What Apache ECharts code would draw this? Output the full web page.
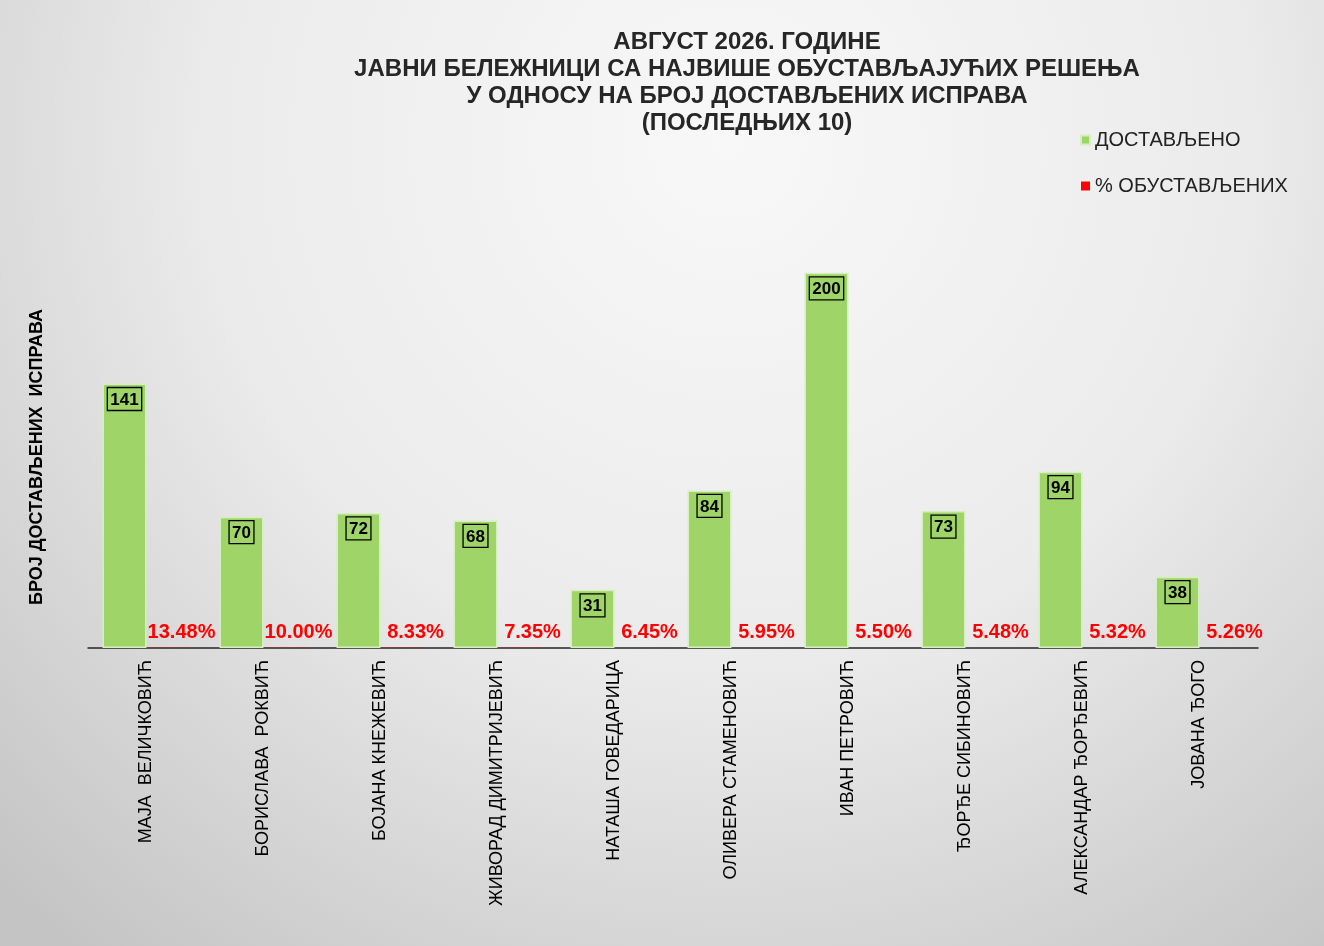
<!DOCTYPE html>
<html>
<head>
<meta charset="utf-8">
<script src="https://cdn.jsdelivr.net/npm/echarts@6/dist/echarts.min.js"></script>
<style>
    html, body { margin: 0; padding: 0; }
    #chart { width: 1324px; height: 946px; }
</style>
</head>
<body>
<div id="chart"></div>
<script>
const categories = [
    'МАЈА  ВЕЛИЧКОВИЋ',
    'БОРИСЛАВА  РОКВИЋ',
    'БОЈАНА КНЕЖЕВИЋ',
    'ЖИВОРАД ДИМИТРИЈЕВИЋ',
    'НАТАША ГОВЕДАРИЦА',
    'ОЛИВЕРА СТАМЕНОВИЋ',
    'ИВАН ПЕТРОВИЋ',
    'ЂОРЂЕ СИБИНОВИЋ',
    'АЛЕКСАНДАР ЂОРЂЕВИЋ',
    'ЈОВАНА ЂОГО'
];
const delivered = [141, 70, 72, 68, 31, 84, 200, 73, 94, 38];
const suspendedPct = [13.48, 10.00, 8.33, 7.35, 6.45, 5.95, 5.50, 5.48, 5.32, 5.26];

const titleLines = [
    'АВГУСТ 2026. ГОДИНЕ',
    'ЈАВНИ БЕЛЕЖНИЦИ СА НАЈВИШЕ ОБУСТАВЉАЈУЋИХ РЕШЕЊА',
    'У ОДНОСУ НА БРОЈ ДОСТАВЉЕНИХ ИСПРАВА',
    '(ПОСЛЕДЊИХ 10)'
];

var chart = echarts.init(document.getElementById('chart'));

var option = {
    backgroundColor: {
        type: 'radial',
        x: 0.55, y: 0.15, r: 1.1,
        colorStops: [
            { offset: 0, color: '#f8f8f8' },
            { offset: 0.5, color: '#ebebeb' },
            { offset: 1, color: '#c4c4c4' }
        ]
    },
    textStyle: { fontFamily: 'Liberation Sans, Arial, sans-serif' },
    title: {
        text: titleLines.join('\n'),
        left: 742,
        top: 24,
        textAlign: 'center',
        textStyle: {
            fontSize: 24,
            fontWeight: 'bold',
            color: '#262626',
            lineHeight: 27
        }
    },
    legend: {
        orient: 'vertical',
        left: 1075,
        top: 125,
        itemWidth: 9,
        itemHeight: 9,
        itemGap: 26,
        icon: 'rect',
        textStyle: { fontSize: 20, color: '#222' },
        data: ['ДОСТАВЉЕНО', '% ОБУСТАВЉЕНИХ']
    },
    graphic: [{
        type: 'text',
        x: 37,
        y: 457,
        rotation: Math.PI / 2,
        style: {
            text: 'БРОЈ ДОСТАВЉЕНИХ  ИСПРАВА',
            font: 'bold 18px "Liberation Sans", Arial, sans-serif',
            fill: '#000',
            align: 'center',
            verticalAlign: 'middle'
        }
    }],
    grid: {
        left: 88,
        right: 66,
        top: 179,
        bottom: 298
    },
    xAxis: {
        type: 'category',
        data: categories,
        axisTick: { show: false },
        axisLine: { lineStyle: { color: '#262626', width: 1.5 } },
        axisLabel: {
            interval: 0,
            rotate: 90,
            margin: 12,
            fontSize: 18,
            color: '#000'
        }
    },
    yAxis: {
        type: 'value',
        min: 0,
        max: 250,
        show: false,
        splitLine: { show: false }
    },
    series: [
        {
            name: 'ДОСТАВЉЕНО',
            type: 'bar',
            barWidth: 44,
            barGap: '0%',
            data: delivered,
            itemStyle: {
                color: '#9fd468',
                borderColor: '#d6eec0',
                borderWidth: 1.5
            },
            label: {
                show: true,
                position: 'insideTop',
                distance: 4,
                fontSize: 17,
                fontWeight: 'bold',
                color: '#000',
                borderColor: '#000',
                borderWidth: 1.3,
                padding: [4, 3, 2, 3]
            }
        },
        {
            name: '% ОБУСТАВЉЕНИХ',
            type: 'bar',
            barWidth: 44,
            data: suspendedPct.map(v => v / 100),
            itemStyle: { color: '#ff0000' },
            label: {
                show: true,
                position: 'top',
                distance: 5,
                offset: [13, 0],
                fontSize: 20,
                fontWeight: 'bold',
                color: '#ff0000',
                formatter: p => (p.value * 100).toFixed(2) + '%'
            }
        }
    ]
};

chart.setOption(option);
</script>
</body>
</html>
